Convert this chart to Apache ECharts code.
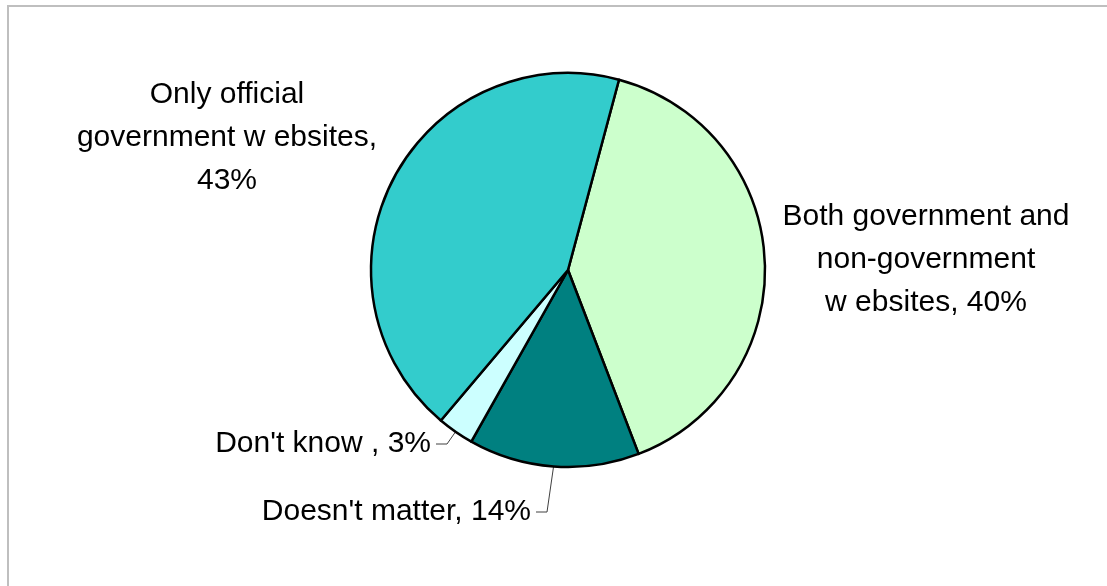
<!DOCTYPE html>
<html>
<head>
<meta charset="utf-8">
<script src="https://cdn.jsdelivr.net/npm/echarts@6/dist/echarts.min.js"></script>
<style>
  html, body { margin: 0; padding: 0; background: #fff; }
  #chart { width: 1107px; height: 586px; }
</style>
</head>
<body>
<div id="chart"></div>
<script>
// Survey answers, clockwise from the top
const categories = [
  'Both government and\nnon-government\nw ebsites',
  "Doesn't matter",
  "Don't know ",
  'Only official\ngovernment w ebsites,'
];
const shares = [40, 14, 3, 43];
const sliceColors = ['#CCFFCC', '#008080', '#CCFFFF', '#33CCCC'];

// label text for each slice
const labelText = [
  'Both government and\nnon-government\nw ebsites, 40%',
  "Doesn't matter, 14%",
  "Don't know , 3%",
  'Only official\ngovernment w ebsites,\n43%'
];

// where each label sits: [x, y, align]; leader lines only for the small slices
const labelPlace = [
  { x: 926, y: 260, align: 'center', line: false },
  { x: 531, y: 512, align: 'right', line: true },
  { x: 431, y: 444, align: 'right', line: true },
  { x: 227, y: 138, align: 'center', line: false }
];

const chart = echarts.init(document.getElementById('chart'), null, { renderer: 'canvas' });

chart.setOption({
  backgroundColor: '#ffffff',
  animation: false,
  graphic: [{
    type: 'rect',
    shape: { x: 8, y: 6, width: 1130, height: 620 },
    style: { fill: 'none', stroke: '#BFBFBF', lineWidth: 2 },
    silent: true
  }],
  series: [{
    type: 'pie',
    center: [568, 270],
    radius: 197,
    startAngle: 75,
    clockwise: true,
    avoidLabelOverlap: false,
    itemStyle: { borderColor: '#000000', borderWidth: 2.5 },
    label: {
      show: true,
      position: 'outside',
      color: '#000000',
      fontFamily: 'Liberation Sans, Arial, sans-serif',
      fontSize: 30,
      lineHeight: 43,
      formatter: p => labelText[p.dataIndex]
    },
    labelLine: {
      show: true,
      length: 10,
      length2: 10,
      lineStyle: { color: '#404040', width: 1 }
    },
    labelLayout: function (params) {
      const place = labelPlace[params.dataIndex];
      const out = { x: place.x, y: place.y, align: place.align, verticalAlign: 'middle' };
      if (place.line && params.labelLinePoints) {
        const start = params.labelLinePoints[0];
        const endX = place.x + 5;
        const elbowX = endX + 11;
        out.labelLinePoints = [
          [start[0], start[1]],
          [elbowX, place.y],
          [endX, place.y]
        ];
      }
      return out;
    },
    data: categories.map((name, i) => ({
      name: name,
      value: shares[i],
      itemStyle: { color: sliceColors[i] },
      labelLine: { show: labelPlace[i].line }
    }))
  }]
});
</script>
</body>
</html>
